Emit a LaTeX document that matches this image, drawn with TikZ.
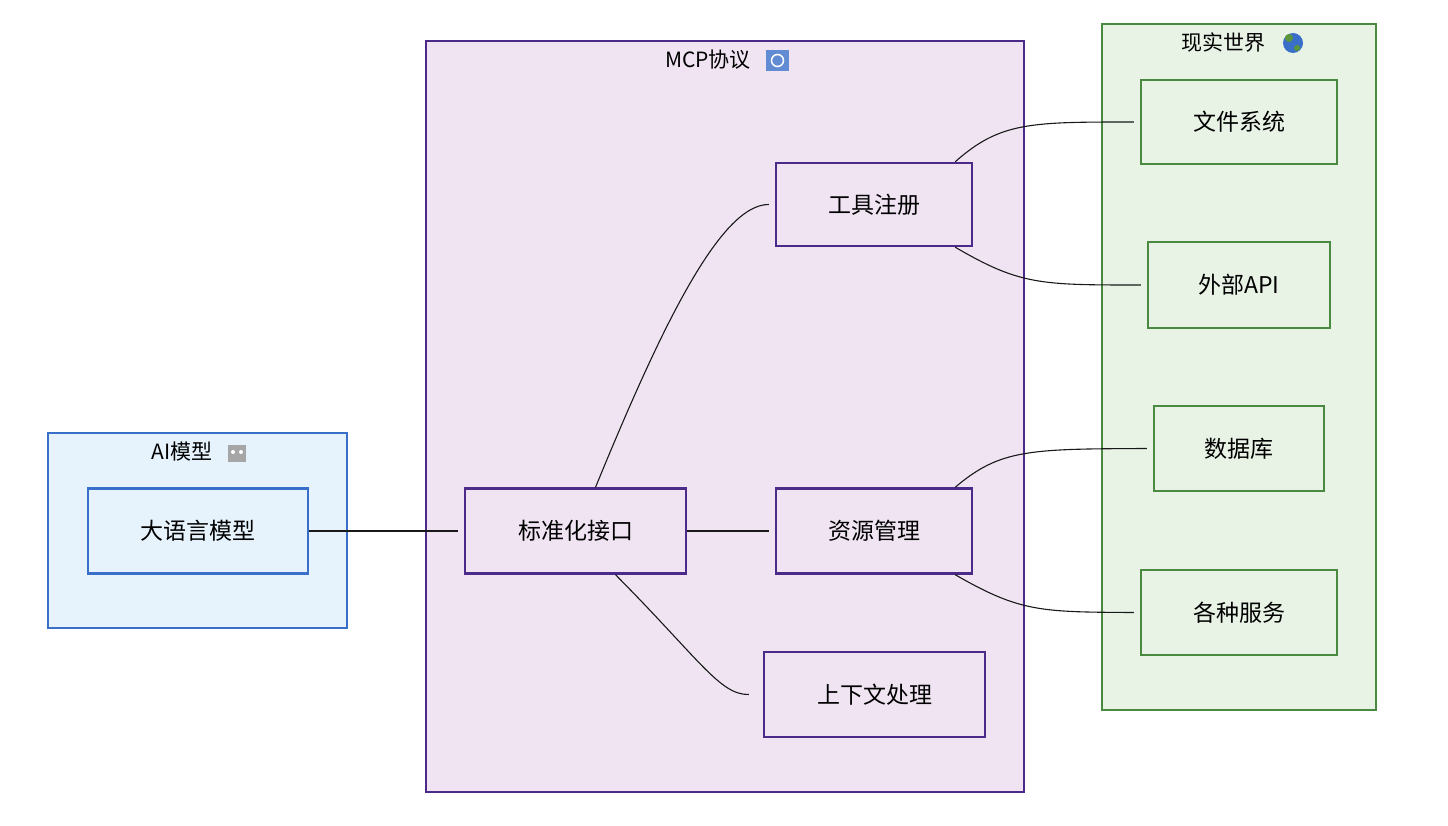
\documentclass[tikz,border=0pt]{standalone}
\usepackage{fontspec}
\setmainfont{Noto Sans CJK SC}
\begin{document}
\begin{tikzpicture}[x=1pt,y=-1pt,
  grp/.style={line width=2.2pt},
  box/.style={draw,line width=2.4pt,minimum width=#1,minimum height=85pt,inner sep=0pt,font=\fontsize{23}{27}\selectfont},
  ln/.style={line width=1.1pt,draw=black!90}]
\useasboundingbox (0,0) rectangle (1448,826);
\definecolor{bf}{HTML}{E6F2FC}\definecolor{bs}{HTML}{3A6FC9}
\definecolor{pf}{HTML}{F0E4F3}\definecolor{ps}{HTML}{4B2A8A}
\definecolor{gf}{HTML}{E8F3E6}\definecolor{gs}{HTML}{4A8A40}
\draw[grp,fill=bf,draw=bs] (48,433) rectangle (347,628);
\draw[grp,fill=pf,draw=ps] (426,41) rectangle (1024,792);
\draw[grp,fill=gf,draw=gs] (1102,24) rectangle (1376,710);
\node[font=\fontsize{21}{25}\selectfont] (t1) at (182,452) {AI模型};
\node[font=\fontsize{21}{25}\selectfont] (t2) at (708,60) {MCP协议};
\node[font=\fontsize{21}{25}\selectfont] (t3) at (1223,43) {现实世界};
% emoji approximations
\fill[gray!70] (228,445) rectangle (246,462);
\fill[white] (233,452) circle (2);\fill[white] (241,452) circle (2);
\fill[bs!80] (766,50) rectangle (789,71);
\draw[white,line width=1.5pt] (777.5,60.5) circle (6);
\fill[bs] (1293,43) circle (10);
\fill[gs!90!yellow] (1289,38) circle (4);\fill[gs!90!yellow] (1297,48) circle (3);
\node[box=220pt,draw=bs,fill=bf] (llm) at (198,531) {大语言模型};
\node[box=221pt,draw=ps,fill=pf] (std) at (575.5,531) {标准化接口};
\node[box=196pt,minimum height=83pt,draw=ps,fill=pf] (tool) at (874,204.5) {工具注册};
\node[box=196pt,draw=ps,fill=pf] (res) at (874,531) {资源管理};
\node[box=221pt,draw=ps,fill=pf] (ctx) at (874.5,694.5) {上下文处理};
\node[box=196pt,minimum height=84pt,draw=gs,fill=gf] (fs) at (1239,122) {文件系统};
\node[box=182pt,minimum height=86pt,draw=gs,fill=gf] (api) at (1239,285) {外部API};
\node[box=170pt,draw=gs,fill=gf] (db) at (1239,448.5) {数据库};
\node[box=196pt,draw=gs,fill=gf] (svc) at (1239,612.5) {各种服务};
\draw[ln] (llm.east) -- ([xshift=-6pt]std.west);
\draw[ln] (std.east) -- ([xshift=-6pt]res.west);
\draw[ln] ([xshift=20pt]std.north) .. controls (660,330) and (720,204) .. ([xshift=-6pt]tool.west);
\draw[ln] ([xshift=40pt]std.south) .. controls (700,660) and (720,695) .. ([xshift=-14pt]ctx.west);
\draw[ln] ([xshift=-18pt]tool.north east) .. controls (1000,122) and (1030,122) .. ([xshift=-6pt]fs.west);
\draw[ln] ([xshift=-18pt]tool.south east) .. controls (1020,285) and (1040,285) .. ([xshift=-6pt]api.west);
\draw[ln] ([xshift=-18pt]res.north east) .. controls (1000,449) and (1030,449) .. ([xshift=-6pt]db.west);
\draw[ln] ([xshift=-18pt]res.south east) .. controls (1020,612) and (1040,612) .. ([xshift=-6pt]svc.west);
\end{tikzpicture}
\end{document}
